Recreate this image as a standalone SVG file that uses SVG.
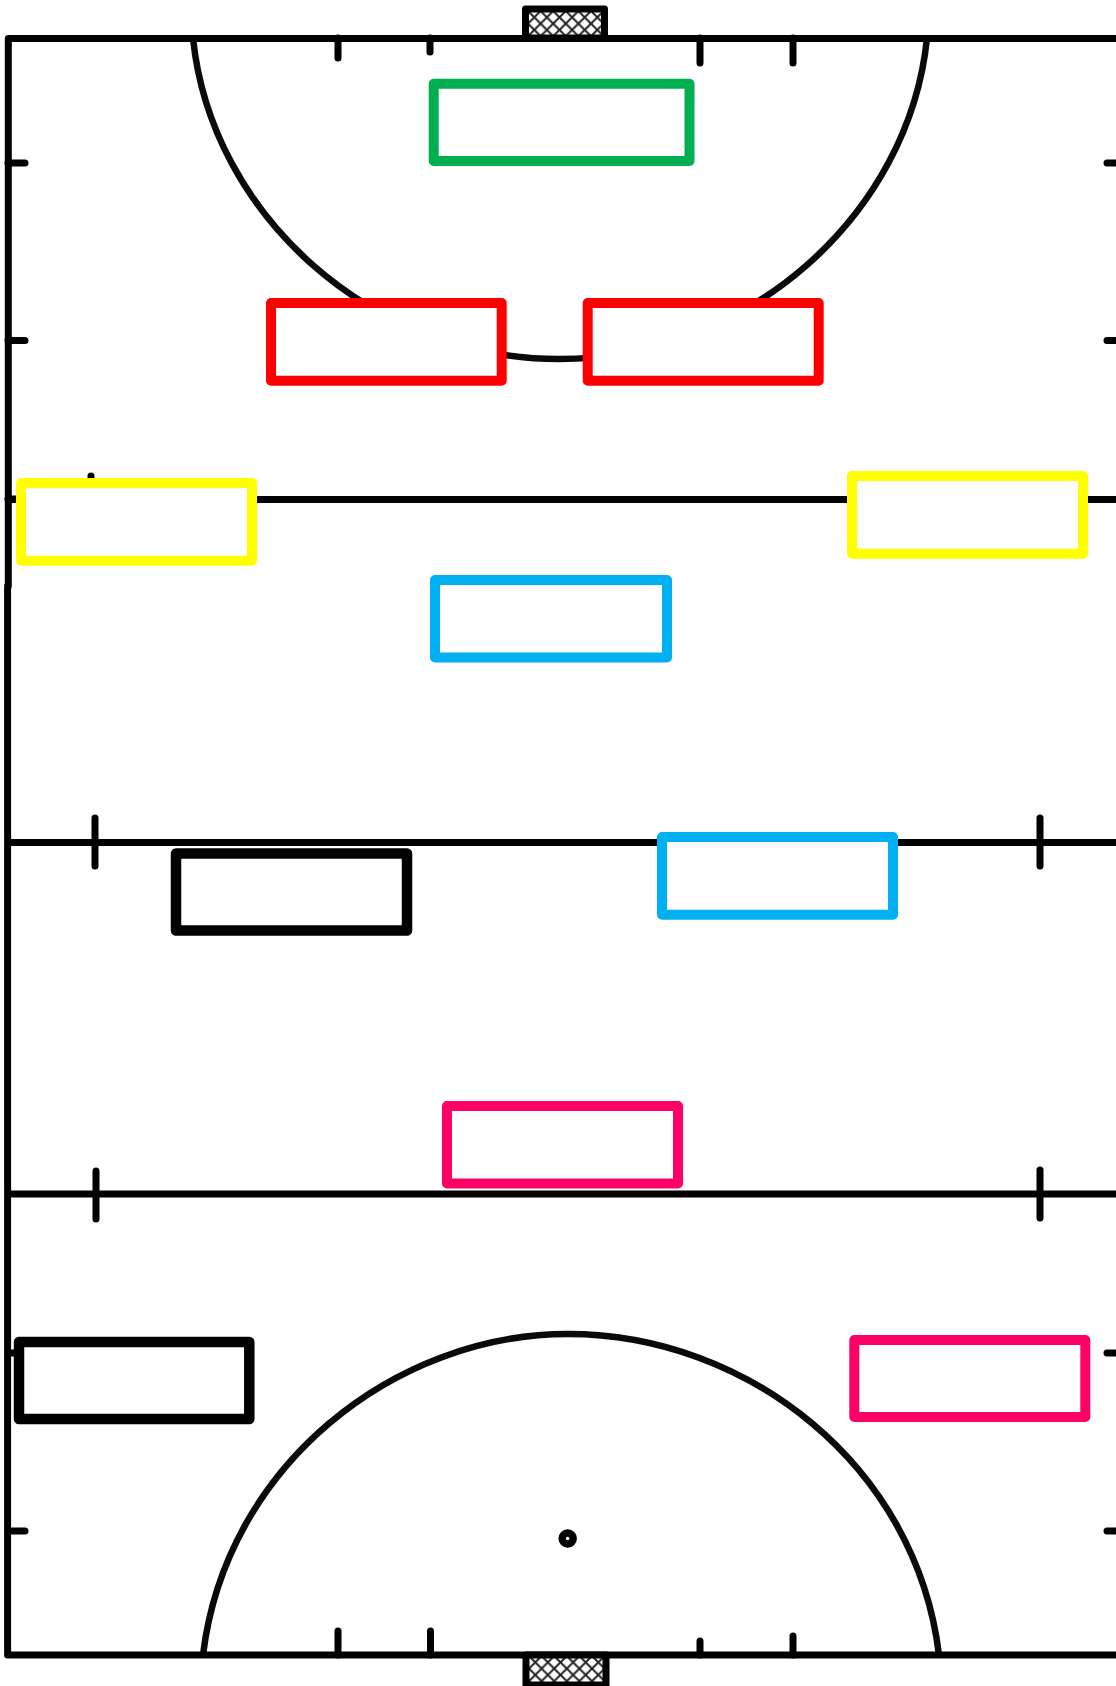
<svg xmlns="http://www.w3.org/2000/svg" width="1116" height="1686" viewBox="0 0 1116 1686">
<style>
.l{fill:none;stroke:#000;stroke-width:7;stroke-linecap:round;stroke-linejoin:round}
.a{fill:none;stroke:#0a0a0a;stroke-width:6.500}
.b{fill:#fff;stroke-width:10;stroke-linejoin:round}
.k{stroke-width:10.5}
.net{stroke:#000;stroke-width:7;stroke-linejoin:round}
</style>
<defs>
<pattern id="h" width="12.6" height="12.6" patternUnits="userSpaceOnUse" patternTransform="translate(528 11)">
<rect width="12.6" height="12.6" fill="#fff"/>
<path d="M0 0L12.6 12.6M12.6 0L0 12.6" stroke="#222" stroke-width="2"/>
</pattern>
<pattern id="h2" width="12.6" height="12.6" patternUnits="userSpaceOnUse" patternTransform="translate(529 1656)">
<rect width="12.6" height="12.6" fill="#fff"/>
<path d="M0 0L12.6 12.6M12.6 0L0 12.6" stroke="#222" stroke-width="2"/>
</pattern>
</defs>
<rect width="1116" height="1686" fill="#fff"/>
<g id="pitch">
<path class="a" d="M193 38C211 215 372 359 559 359C748 359 909 215 927 38"/>
<path class="a" d="M203 1655C226 1465 395 1334 568 1334C747 1334 916 1465 939 1655"/>
<path class="l" d="M1116 38.500H8.300V586M7.600 586V1655H1116M8 499.500H1116M8 842.500H1116M8 1194H1116"/>
<path class="l" d="M338 38V58M430 38V52M700 38V63M793 38V63M338 1655V1631M430.500 1655V1631M700 1655V1641M793 1655V1636"/>
<path class="l" d="M8 163H25M8 340.500H25M8 499H16M8 1353H16M8 1531H25M1107 163H1116M1107 340.500H1116M1107 1353H1116M1107 1531H1116"/>
<path class="l" d="M95 818V866M1040 818V866M96 1171V1219M1040 1170V1218M91 476V484"/>
<circle cx="567.700" cy="1538.500" r="5.500" fill="none" stroke="#000" stroke-width="7.500"/>
<rect class="net" fill="url(#h)" x="525.500" y="9" width="79" height="29"/>
<path class="net" fill="url(#h2)" d="M526 1655V1685H606V1655Z"/>
</g>
<g id="green"><rect class="b" stroke="#00b050" x="433.700" y="83.700" width="255.800" height="77.300"/></g>
<g id="red-1"><rect class="b" stroke="#f00" x="271" y="303" width="230.700" height="77.700"/></g>
<g id="red-2"><rect class="b" stroke="#f00" x="587.700" y="303" width="231" height="77.700"/></g>
<g id="yellow-1"><rect class="b" stroke="#ff0" x="21" y="483" width="231" height="77.700"/></g>
<g id="yellow-2"><rect class="b" stroke="#ff0" x="852" y="476" width="231" height="77.700"/></g>
<g id="blue-1"><rect class="b" stroke="#00b0f0" x="435" y="580" width="232" height="77.500"/></g>
<g id="blue-2"><rect class="b" stroke="#00b0f0" x="662" y="837" width="231" height="77.700"/></g>
<g id="black-1"><rect class="b k" stroke="#000" x="176" y="853.500" width="231" height="77"/></g>
<g id="pink-1"><rect class="b" stroke="#ff0066" x="447" y="1106" width="231" height="77.500"/></g>
<g id="black-2"><rect class="b k" stroke="#000" x="19" y="1342" width="230.300" height="77"/></g>
<g id="pink-2"><rect class="b" stroke="#ff0066" x="854.300" y="1340" width="231" height="77"/></g>
</svg>
